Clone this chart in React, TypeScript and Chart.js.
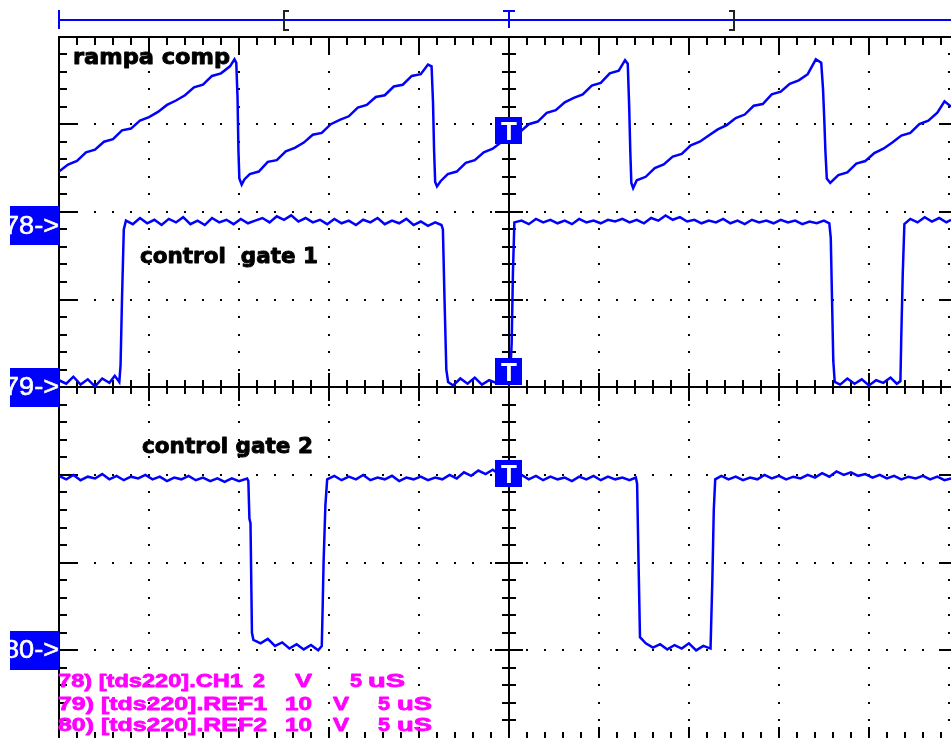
import React, { useEffect, useRef } from "react";
import { Chart, registerables } from "chart.js";

Chart.register(...registerables);

// Time in µs (5 µs / division), amplitude in screen divisions (0 = bottom graticule line, 8 = top)
const rampTime = [
  0.0, 0.5, 1.0, 1.5, 2.0, 2.5, 3.0, 3.5, 4.0, 4.5, 5.0, 5.5, 6.0, 6.5, 7.0, 7.5, 8.0, 8.5, 9.0, 9.5, 9.75, 9.85,
  9.92, 9.97, 10.02, 10.15, 10.3,
  10.6, 11.1, 11.6, 12.1, 12.6, 13.1, 13.6, 14.1, 14.6, 15.1, 15.6, 16.1, 16.6, 17.1, 17.6, 18.1, 18.6, 19.1, 19.6, 20.1, 20.5, 20.7,
  20.78, 20.84, 20.9, 21.0, 21.2,
  21.6, 22.1, 22.6, 23.1, 23.6, 24.1, 24.6, 25.1, 25.6, 26.1, 26.6, 27.1, 27.6, 28.1, 28.6, 29.1, 29.6, 30.1, 30.6, 31.1, 31.45, 31.6,
  31.68, 31.74, 31.8, 31.9, 32.1,
  32.6, 33.1, 33.6, 34.1, 34.6, 35.1, 35.6, 36.1, 36.6, 37.1, 37.6, 38.1, 38.6, 39.1, 39.6, 40.1, 40.6, 41.1, 41.6, 42.05, 42.35,
  42.45, 42.52, 42.58, 42.66, 42.85,
  43.3, 43.8, 44.3, 44.8, 45.3, 45.8, 46.3, 46.8, 47.3, 47.8, 48.3, 48.8, 49.2, 49.56,
];
const rampLevel = [
  6.46, 6.54, 6.58, 6.68, 6.71, 6.80, 6.83, 6.93, 6.95, 7.04, 7.08, 7.14, 7.22, 7.27, 7.33, 7.42, 7.45, 7.55, 7.58, 7.66, 7.74, 7.70,
  7.30, 6.70, 6.38, 6.31, 6.37,
  6.43, 6.46, 6.57, 6.59, 6.69, 6.73, 6.79, 6.88, 6.90, 7.00, 7.05, 7.09, 7.19, 7.22, 7.31, 7.33, 7.43, 7.45, 7.55, 7.57, 7.68, 7.66,
  7.25, 6.70, 6.34, 6.29, 6.35,
  6.43, 6.46, 6.56, 6.59, 6.68, 6.72, 6.80, 6.87, 6.91, 7.00, 7.03, 7.13, 7.16, 7.25, 7.30, 7.34, 7.44, 7.47, 7.58, 7.61, 7.73, 7.69,
  7.20, 6.70, 6.33, 6.27, 6.36,
  6.40, 6.50, 6.54, 6.63, 6.66, 6.76, 6.80, 6.87, 6.94, 6.99, 7.07, 7.11, 7.21, 7.23, 7.34, 7.37, 7.46, 7.50, 7.57, 7.74, 7.70,
  7.40, 7.05, 6.70, 6.38, 6.33,
  6.42, 6.45, 6.55, 6.58, 6.67, 6.72, 6.79, 6.87, 6.90, 7.00, 7.04, 7.13, 7.26, 7.20,
];

const gate1Time = [
  0.0, 0.4, 0.8, 1.2, 1.6, 2.0, 2.4, 2.8, 3.1, 3.35,
  3.42, 3.5, 3.6, 3.72,
  4.1, 4.5, 4.9, 5.3, 5.7, 6.1, 6.5, 6.9, 7.3, 7.7, 8.1, 8.5, 8.9, 9.3, 9.7, 10.1, 10.5, 10.9, 11.3, 11.7, 12.1, 12.5,
  12.9, 13.3, 13.7, 14.1, 14.5, 14.9, 15.3, 15.7, 16.1, 16.5, 16.9, 17.3, 17.7, 18.1, 18.5, 18.9, 19.3, 19.7, 20.1,
  20.5, 20.9, 21.25,
  21.33, 21.42, 21.52, 21.62,
  21.9, 22.3, 22.7, 23.1, 23.5, 23.9, 24.3, 24.7, 25.05,
  25.15, 25.22, 25.3,
  25.7, 26.1, 26.5, 26.9, 27.3, 27.7, 28.1, 28.5, 28.9, 29.3, 29.7, 30.1, 30.5, 30.9, 31.3, 31.7, 32.1, 32.5, 32.9,
  33.3, 33.7, 34.1, 34.5, 34.9, 35.3, 35.7, 36.1, 36.5, 36.9, 37.3, 37.7, 38.1, 38.5, 38.9, 39.3, 39.7, 40.1, 40.5,
  40.9, 41.3, 41.7, 42.1, 42.5, 42.8,
  42.88, 42.95, 43.02, 43.1,
  43.4, 43.8, 44.2, 44.6, 45.0, 45.4, 45.8, 46.2, 46.55, 46.75,
  46.8, 46.88, 46.97,
  47.3, 47.7, 48.1, 48.5, 48.9, 49.3, 49.56,
];
const gate1Level = [
  4.08, 4.04, 4.12, 4.03, 4.09, 4.01, 4.10, 4.05, 4.13, 4.06,
  4.25, 5.00, 5.80, 5.90,
  5.86, 5.93, 5.87, 5.91, 5.85, 5.92, 5.88, 5.94, 5.86, 5.90, 5.85, 5.93, 5.88, 5.91, 5.86, 5.92, 5.87, 5.90, 5.93, 5.88, 5.95, 5.91,
  5.96, 5.89, 5.93, 5.88, 5.91, 5.86, 5.92, 5.87, 5.90, 5.85, 5.91, 5.88, 5.93, 5.86, 5.90, 5.87, 5.92, 5.85, 5.89,
  5.84, 5.88, 5.85,
  5.80, 5.00, 4.20, 4.06,
  4.02, 4.10, 4.04, 4.11, 4.03, 4.08, 4.05, 4.09, 4.06,
  4.50, 5.30, 5.88,
  5.90, 5.86, 5.92, 5.88, 5.91, 5.87, 5.90, 5.86, 5.92, 5.88, 5.90, 5.87, 5.91, 5.89, 5.92, 5.88, 5.91, 5.87, 5.93,
  5.90, 5.96, 5.91, 5.94, 5.89, 5.91, 5.87, 5.90, 5.88, 5.92, 5.87, 5.90, 5.86, 5.91, 5.88, 5.90, 5.87, 5.91, 5.88,
  5.90, 5.86, 5.89, 5.87, 5.90, 5.87,
  5.70, 5.00, 4.30, 4.06,
  4.03, 4.10, 4.04, 4.09, 4.02, 4.08, 4.05, 4.11, 4.04, 4.07,
  4.60, 5.30, 5.86,
  5.92, 5.88, 5.94, 5.89, 5.93, 5.88, 5.91,
];

const gate2Time = [
  0.0, 0.4, 0.8, 1.2, 1.6, 2.0, 2.4, 2.8, 3.2, 3.6, 4.0, 4.4, 4.8, 5.2, 5.6, 6.0, 6.4, 6.8, 7.2, 7.6, 8.0, 8.4, 8.8,
  9.2, 9.6, 10.0, 10.45,
  10.52, 10.58, 10.64, 10.72, 10.8,
  11.2, 11.6, 12.0, 12.4, 12.8, 13.2, 13.6, 14.0, 14.4, 14.6,
  14.65, 14.7, 14.8, 14.9,
  15.3, 15.7, 16.1, 16.5, 16.9, 17.3, 17.7, 18.1, 18.5, 18.9, 19.3, 19.7, 20.1, 20.5, 20.9, 21.3, 21.7, 22.1, 22.5,
  22.9, 23.3, 23.7, 24.1, 24.5, 24.9, 25.3, 25.7, 26.1, 26.5, 26.9, 27.3, 27.7, 28.1, 28.5, 28.9, 29.3, 29.7, 30.1,
  30.5, 30.9, 31.3, 31.7, 32.05,
  32.12, 32.2, 32.28,
  32.6, 33.0, 33.4, 33.8, 34.2, 34.6, 35.0, 35.4, 35.8, 36.2,
  36.3, 36.38, 36.46,
  36.8, 37.2, 37.6, 38.0, 38.4, 38.8, 39.2, 39.6, 40.0, 40.4, 40.8, 41.2, 41.6, 42.0, 42.4, 42.8, 43.2, 43.6, 44.0,
  44.4, 44.8, 45.2, 45.6, 46.0, 46.4, 46.8, 47.2, 47.6, 48.0, 48.4, 48.8, 49.2, 49.56,
];
const gate2Level = [
  2.99, 2.95, 3.00, 2.94, 2.98, 2.96, 3.01, 2.95, 2.99, 2.94, 2.98, 2.96, 3.00, 2.95, 2.98, 2.93, 2.97, 2.95, 2.99, 2.94, 2.97, 2.93, 2.96,
  2.92, 2.96, 2.93, 2.96,
  2.93, 2.50, 2.45, 1.20, 1.12,
  1.08, 1.13, 1.05, 1.09, 1.02, 1.07, 1.01, 1.06, 1.00, 1.05,
  1.50, 2.00, 2.65, 2.95,
  2.99, 2.94, 2.98, 2.95, 3.00, 2.94, 2.97, 2.95, 2.99, 2.93, 2.97, 2.95, 2.98, 2.94, 2.97, 2.95, 3.00, 2.96, 3.03,
  2.99, 3.05, 3.01, 3.06, 3.00, 3.03, 2.97, 3.00, 2.95, 2.99, 2.94, 2.98, 2.95, 2.97, 2.93, 2.98, 2.95, 2.99, 2.94,
  2.98, 2.95, 2.97, 2.94, 2.97,
  2.90, 2.00, 1.15,
  1.08, 1.03, 1.07, 1.01, 1.06, 1.02, 1.08, 1.00, 1.05, 1.02,
  1.80, 2.60, 2.95,
  2.99, 2.95, 2.98, 2.94, 2.97, 2.95, 3.00, 2.96, 2.99, 2.95, 2.98, 2.96, 3.00, 2.97, 3.02, 2.98, 3.04, 3.00, 3.03,
  2.99, 3.01, 2.97, 3.00, 2.96, 2.99, 2.95, 2.98, 2.96, 2.99, 2.95, 2.98, 2.94, 2.96,
];

const TIME_VISIBLE = 49.56; // µs shown of the 50 µs record
const SCREEN_DIVS = 8;
const refLabels = ["78->", "79->", "80->"];
const refLevels = [5.84, 4.0, 1.0];
const triggerTime = 25;
const triggerLevels = [6.93, 4.19, 3.02];
const traceLabels = ["rampa comp", "control  gate 1", "control gate 2"];
const legendRows = [
  ["78) [tds220].CH1", "2", "V", "5", "uS"],
  ["79) [tds220].REF1", "10", "V", "5", "uS"],
  ["80) [tds220].REF2", "10", "V", "5", "uS"],
];

const BLUE = "#0000ff";
const MAGENTA = "#ff00ff";

function fitText(
  ctx: CanvasRenderingContext2D,
  text: string,
  x: number,
  base: number,
  width: number,
  font: string,
  color: string,
  stroke = 0
) {
  ctx.save();
  ctx.font = font;
  ctx.fillStyle = color;
  ctx.strokeStyle = color;
  ctx.textAlign = "left";
  ctx.textBaseline = "alphabetic";
  const w = ctx.measureText(text).width || 1;
  ctx.translate(x, base);
  ctx.scale(width / w, 1);
  ctx.fillText(text, 0, 0);
  if (stroke > 0) {
    ctx.lineWidth = stroke;
    ctx.lineJoin = "round";
    ctx.strokeText(text, 0, 0);
  }
  ctx.restore();
}

const scopePlugin = {
  id: "scopeScreen",
  beforeDatasetsDraw(chart: any) {
    const { ctx, chartArea: a } = chart;
    const xs = chart.scales.x;
    const ys = chart.scales.y;
    const X = (t: number) => xs.getPixelForValue(t);
    const Y = (v: number) => ys.getPixelForValue(v);
    const hLine = (yy: number, x0: number, x1: number) => ctx.fillRect(Math.round(x0), Math.round(yy - 1), Math.round(x1 - x0), 2);
    const vLine = (xx: number, y0: number, y1: number) => ctx.fillRect(Math.round(xx - 1), Math.round(y0), 2, Math.round(y1 - y0));
    ctx.save();
    ctx.fillStyle = "#000";
    const dot = (px: number, py: number) => ctx.fillRect(Math.round(px) - 1, Math.round(py) - 1, 2, 2);
    for (let d = 5; d < 50; d += 5) {
      if (d === 25) continue;
      for (let k = 1; k < 40; k++) dot(X(d), Y(k * 0.2));
    }
    for (let j = 1; j < SCREEN_DIVS; j++) {
      if (j === 4) continue;
      for (let m = 1; m < 50; m++) dot(X(m), Y(j));
    }
    for (let k = 1; k < 40; k++) dot(X(49.44), Y(k * 0.2));
    const top = Y(SCREEN_DIVS);
    const left = X(0);
    hLine(top, left - 1, a.right);
    vLine(left, top - 1, a.bottom);
    hLine(Y(4), left, a.right);
    vLine(X(25), top, a.bottom);
    for (let m = 1; m < 50; m++) {
      const major = m % 5 === 0;
      vLine(X(m), top, top + (major ? 17 : 8));
      vLine(X(m), a.bottom - (major ? 11 : 6), a.bottom);
      const c = major ? 14 : 7;
      vLine(X(m), Y(4) - c, Y(4) + c);
    }
    for (let k = 1; k < 40; k++) {
      const major = k % 5 === 0;
      hLine(Y(k * 0.2), left, left + (major ? 19 : 8));
      const c = major ? 14 : 7;
      hLine(Y(k * 0.2), X(25) - c, X(25) + c);
    }
    for (let j = 1; j < SCREEN_DIVS; j++) hLine(Y(j), X(50) - 20, a.right);
    // time ruler
    ctx.fillStyle = BLUE;
    hLine(20, left, a.right);
    vLine(left, 10, 29);
    vLine(X(25), 10, 28);
    hLine(11, X(25) - 6, X(25) + 6);
    ctx.fillStyle = "#222";
    const lb = X(12.5);
    const rb = X(37.5);
    vLine(lb, 10, 31);
    hLine(11, lb - 1, lb + 5);
    hLine(30, lb - 1, lb + 5);
    vLine(rb, 10, 31);
    hLine(11, rb - 5, rb + 1);
    hLine(30, rb - 5, rb + 1);
    ctx.restore();
  },
  afterDatasetsDraw(chart: any) {
    const { ctx } = chart;
    const xs = chart.scales.x;
    const ys = chart.scales.y;
    ctx.save();
    triggerLevels.forEach((lv) => {
      const cx = xs.getPixelForValue(triggerTime);
      const cy = ys.getPixelForValue(lv);
      ctx.fillStyle = BLUE;
      ctx.fillRect(Math.round(cx - 13.5), Math.round(cy - 13), 27, 27);
      ctx.fillStyle = "#fff";
      ctx.font = "bold 26px 'Liberation Sans', Arial, sans-serif";
      ctx.textAlign = "center";
      ctx.textBaseline = "alphabetic";
      ctx.fillText("T", cx, cy + 10);
    });
    refLabels.forEach((lab, i) => {
      const cy = ys.getPixelForValue(refLevels[i]);
      const bx = 10;
      const bw = 49;
      const by = Math.round(cy - 19.5);
      ctx.fillStyle = BLUE;
      ctx.fillRect(bx, by, bw, 39);
      ctx.save();
      ctx.beginPath();
      ctx.rect(bx, by, bw, 39);
      ctx.clip();
      fitText(ctx, lab, 4, cy + 8, 55, "25px 'Liberation Sans', Arial, sans-serif", "#fff", 0.6);
      ctx.restore();
    });
    const lf = "bold 21px 'DejaVu Sans', Verdana, sans-serif";
    fitText(ctx, traceLabels[0], 73, 64, 157, lf, "#000", 0.9);
    fitText(ctx, traceLabels[1], 140, 263, 178, lf, "#000", 0.9);
    fitText(ctx, traceLabels[2], 142, 453, 171, lf, "#000", 0.9);
    const mf = "bold 19px 'Liberation Sans', Arial, sans-serif";
    const rowBase = [687, 710, 731];
    const rowCols = [
      [[58, 185], [253, 12], [295, 17], [350, 12], [368, 37]],
      [[58, 209], [285, 27], [333, 16], [378, 12], [397, 35]],
      [[58, 209], [285, 27], [333, 16], [378, 12], [397, 35]],
    ];
    legendRows.forEach((row, r) => {
      row.forEach((tok, c) => {
        fitText(ctx, tok, rowCols[r][c][0], rowBase[r], rowCols[r][c][1], mf, MAGENTA, 0.8);
      });
    });
    ctx.restore();
  },
};

export default function App() {
  const ref = useRef<HTMLCanvasElement | null>(null);
  useEffect(() => {
    if (!ref.current) return;
    const mk = (ts: number[], vs: number[]) => ts.map((t, i) => ({ x: t, y: vs[i] }));
    const trace = (label: string, ts: number[], vs: number[]) => ({
      label,
      data: mk(ts, vs),
      borderColor: BLUE,
      backgroundColor: BLUE,
      borderWidth: 2.5,
      pointRadius: 0,
      tension: 0,
      fill: false,
    });
    const chart = new Chart(ref.current, {
      type: "line",
      data: {
        datasets: [
          trace(traceLabels[0], rampTime, rampLevel),
          trace(traceLabels[1], gate1Time, gate1Level),
          trace(traceLabels[2], gate2Time, gate2Level),
        ],
      },
      options: {
        animation: false,
        responsive: false,
        events: [],
        layout: { padding: { left: 59, top: 36.5, right: 0, bottom: 0 } },
        scales: {
          x: { type: "linear", min: 0, max: TIME_VISIBLE, display: false },
          y: { type: "linear", min: 0, max: SCREEN_DIVS, display: false },
        },
        plugins: { legend: { display: false }, tooltip: { enabled: false } },
      },
      plugins: [scopePlugin],
    } as any);
    return () => chart.destroy();
  }, []);
  return (
    <div style={{ position: "fixed", left: 0, top: 0, width: 951, height: 738, background: "#fff", overflow: "hidden" }}>
      <canvas ref={ref} width={951} height={738} style={{ display: "block" }} />
    </div>
  );
}
